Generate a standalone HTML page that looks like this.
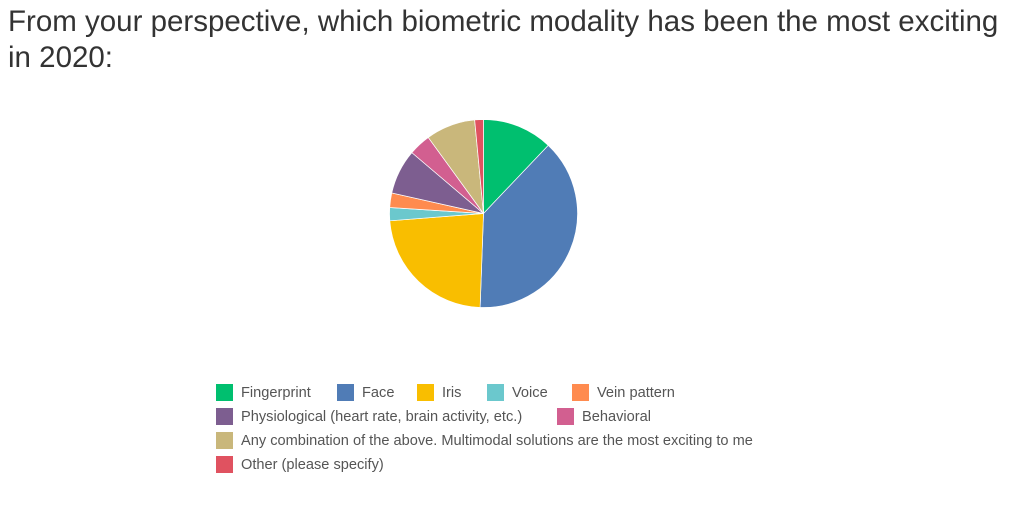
<!DOCTYPE html>
<html><head><meta charset="utf-8"><style>
body{margin:0;width:1024px;height:520px;background:#fff;font-family:"Liberation Sans",sans-serif;overflow:hidden;position:relative}
#title{position:absolute;left:8px;top:4px;font-size:29.5px;line-height:36px;color:#333;width:1016px}
.leg{position:absolute;font-size:14.6px;color:#555;line-height:18px;white-space:nowrap}
.sw{position:absolute;width:17px;height:17px}
</style></head><body>
<div id="title">From your perspective, which biometric modality has been the most exciting in 2020:</div>
<svg id="pie" width="1024" height="520" style="position:absolute;left:0;top:0"></svg>
<div id="legend"></div>
<script>
const categories=["Fingerprint","Face","Iris","Voice","Vein pattern","Physiological (heart rate, brain activity, etc.)","Behavioral","Any combination of the above. Multimodal solutions are the most exciting to me","Other (please specify)"];
const values=[12.1,38.5,23.2,2.25,2.5,7.7,3.8,8.5,1.5];
const colors=["#00bf6f","#507cb6","#f9be00","#6bc8cd","#ff8b4f","#7d5e90","#d25f90","#c9b77b","#e05260"];
const cx=483.5,cy=213.5,r=94;
const svg=document.getElementById('pie');
const total=values.reduce((a,b)=>a+b,0);
let a0=0;
function pt(a){return [cx+r*Math.sin(a),cy-r*Math.cos(a)];}
values.forEach((v,i)=>{
  const a1=a0+v/total*2*Math.PI;
  const p0=pt(a0),p1=pt(a1);
  const p=document.createElementNS('http://www.w3.org/2000/svg','path');
  p.setAttribute('d',`M${cx},${cy}L${p0[0]},${p0[1]}A${r},${r} 0 ${a1-a0>Math.PI?1:0} 1 ${p1[0]},${p1[1]}Z`);
  p.setAttribute('fill',colors[i]);p.setAttribute('stroke','#fff');p.setAttribute('stroke-width','0.7');
  
  
  svg.appendChild(p);a0=a1;
});
const legPos=[[216,384],[337,384],[417,384],[487,384],[572,384],[216,408],[557,408],[216,432],[216,456]];
const leg=document.getElementById('legend');
categories.forEach((c,i)=>{
  const s=document.createElement('div');s.className='sw';
  s.style.left=legPos[i][0]+'px';s.style.top=legPos[i][1]+'px';s.style.background=colors[i];
  
  
  leg.appendChild(s);
  const t=document.createElement('div');t.className='leg';
  t.style.left=(legPos[i][0]+25)+'px';t.style.top=(legPos[i][1])+'px';t.textContent=c;
  
  
  leg.appendChild(t);
});
</script>
</body></html>
